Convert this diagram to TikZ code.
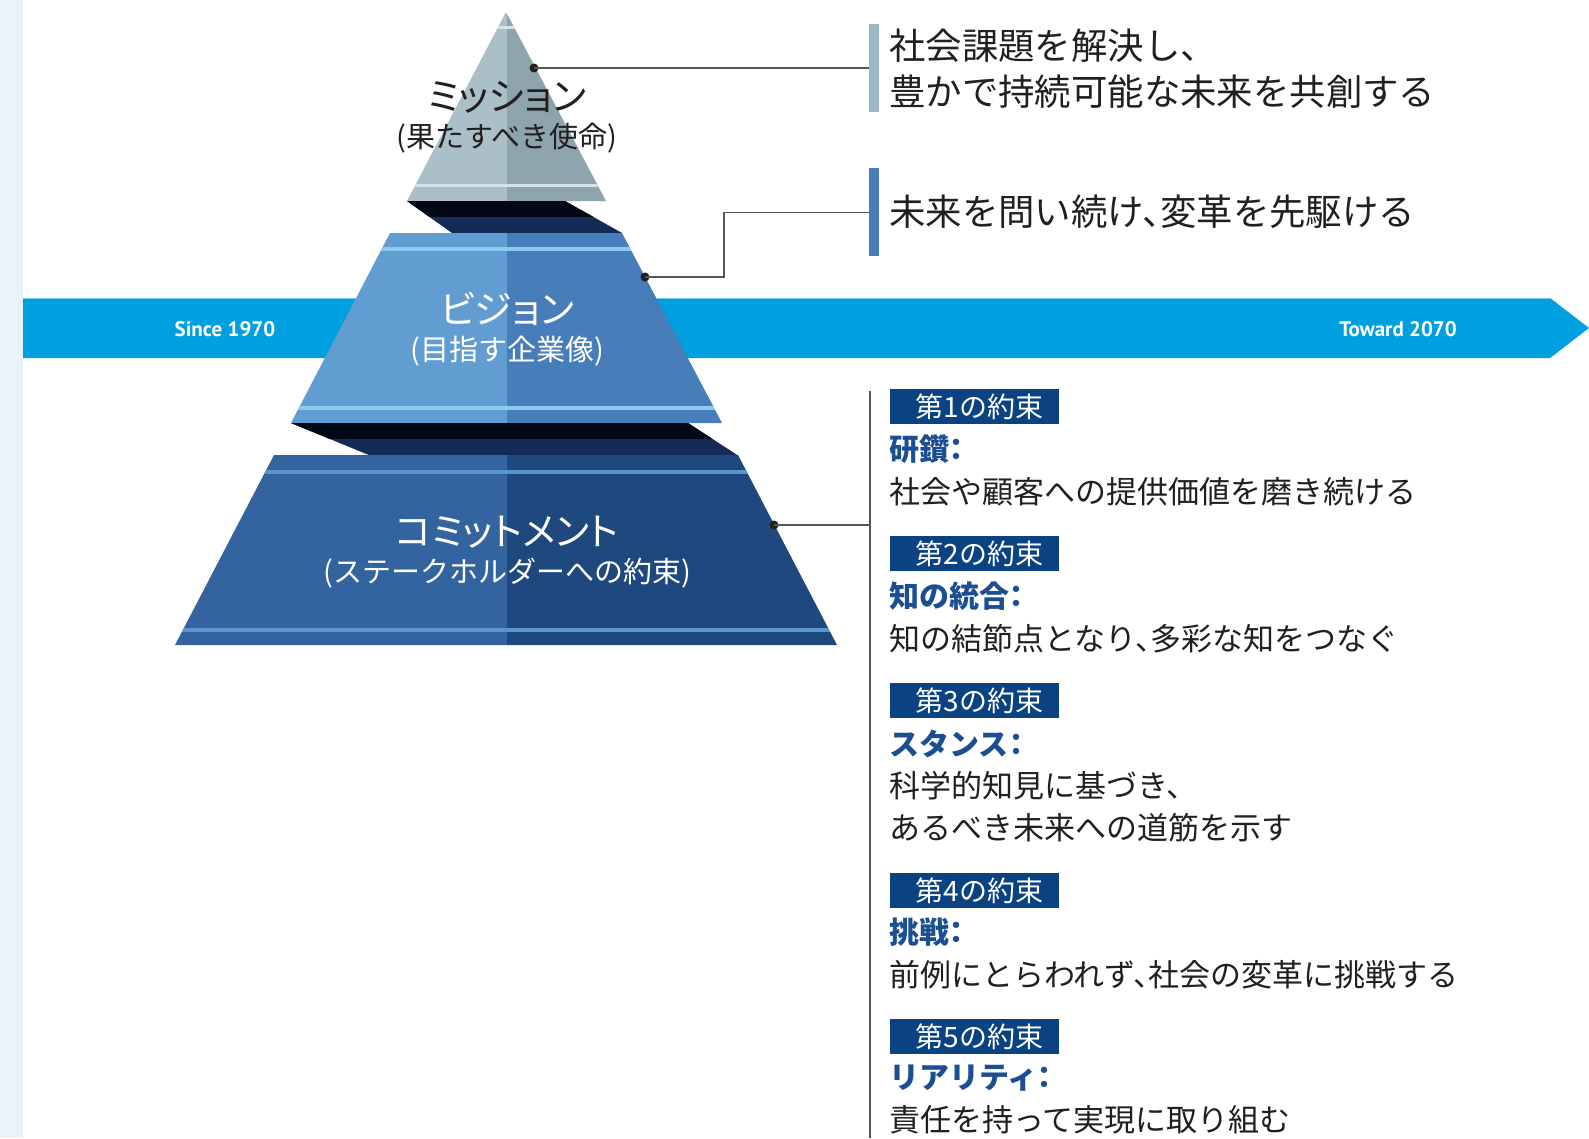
\documentclass[tikz,border=0pt]{standalone}
\usepackage{fontspec}
\newfontfamily\jp{Noto Sans CJK JP}[RawFeature=+halt]
\newfontfamily\jpp{Noto Sans CJK JP}[RawFeature=+palt]
\newfontfamily\latb{PT Sans}
\definecolor{strip}{RGB}{232,243,251}
\definecolor{barblue}{RGB}{0,160,224}
\definecolor{barline}{RGB}{120,200,240}
\definecolor{mL}{RGB}{170,191,199}
\definecolor{mR}{RGB}{141,164,173}
\definecolor{mLine}{RGB}{212,227,233}
\definecolor{gapBlack}{RGB}{2,7,22}
\definecolor{gapNavy}{RGB}{20,43,88}
\definecolor{vL}{RGB}{98,157,209}
\definecolor{vR}{RGB}{71,125,184}
\definecolor{vLine}{RGB}{139,203,240}
\definecolor{cL}{RGB}{51,100,159}
\definecolor{cR}{RGB}{31,72,127}
\definecolor{cLine}{RGB}{91,149,206}
\definecolor{txt}{RGB}{35,31,32}
\definecolor{head}{RGB}{27,79,145}
\definecolor{pboxc}{RGB}{10,66,130}
\definecolor{conn}{RGB}{85,85,85}
\definecolor{mbarc}{RGB}{157,185,198}
\tikzset{
  jptext/.style={inner sep=0pt, text=txt},
  body/.style={jptext, anchor=west, text height=27.3pt, text depth=3.7pt, font=\jp\fontsize{31}{31}\selectfont},
  stmt/.style={jptext, anchor=west, text height=32pt, text depth=4.4pt, font=\jp\fontsize{36.4}{36.4}\selectfont},
  heading/.style={jptext, anchor=west, text=head, text height=26.4pt, text depth=3.6pt, font=\jp\bfseries\fontsize{30}{30}\selectfont},
  pbox/.style={jptext, fill=pboxc, text=white, anchor=north west, minimum width=169pt, minimum height=35pt, text height=24.6pt, text depth=3.4pt, font=\jp\fontsize{28}{28}\selectfont},
  ptitle/.style={jptext, text height=33.4pt, text depth=4.6pt, font=\jpp\fontsize{38}{38}\selectfont},
  psub/.style={jptext, text height=25.5pt, text depth=3.5pt, font=\jp\fontsize{29}{29}\selectfont},
  yearlab/.style={inner sep=0pt, text=white, font=\latb\bfseries\fontsize{21}{21}\selectfont},
  dotnode/.style={circle, fill=black!88, inner sep=0pt, minimum size=9pt},
  sidebar/.style={inner sep=0pt, minimum width=10pt, minimum height=88pt, anchor=north west},
  connline/.style={draw=conn, line width=1.4pt}
}
\begin{document}
\begin{tikzpicture}[x=1pt,y=-1pt]
\useasboundingbox (0,0) rectangle (1589,1138);
\fill[white] (0,0) rectangle (1589,1138);
% left strip
\fill[strip] (0,0) rectangle (23,1138);
% timeline arrow
\fill[barblue] (23,298) -- (1550,298) -- (1589,328) -- (1550,358) -- (23,358) -- cycle;
\draw[barline, line width=1.5pt] (23,298.7) -- (1550,298.7);
\node[yearlab] (since) at (225,329) {Since 1970};
\node[yearlab] (toward) at (1398,329) {Toward 2070};

% ---------- mission
\begin{scope}
\clip (506,12) -- (606,201) -- (407,201) -- cycle;
\fill[mL] (400,0) rectangle (506.5,205);
\fill[mR] (506.5,0) rectangle (610,205);
\fill[mLine] (400,25.5) rectangle (610,29);
\fill[mLine] (400,183.5) rectangle (610,187);
\end{scope}
% gap 1
\begin{scope}
\clip (407,201) -- (565,201) -- (622,233) -- (452,233) -- cycle;
\fill[gapNavy] (400,200) rectangle (630,234);
\fill[gapBlack] (400,200) rectangle (630,217);
\end{scope}
% ---------- vision
\begin{scope}
\clip (390,233) -- (622,233) -- (722,423) -- (291,423) -- cycle;
\fill[vL] (280,230) rectangle (506.5,424);
\fill[vR] (506.5,230) rectangle (730,424);
\fill[vLine] (280,247) rectangle (730,251);
\fill[vLine] (280,406) rectangle (730,410);
\end{scope}
% gap 2
\begin{scope}
\clip (291,423) -- (688,423) -- (738,455.5) -- (370,455.5) -- cycle;
\fill[gapNavy] (280,422) rectangle (745,456);
\fill[gapBlack] (280,422) rectangle (745,439);
\end{scope}
% ---------- commitment
\begin{scope}
\clip (274,455) -- (738,455) -- (837,645) -- (175,645) -- cycle;
\fill[cL] (170,450) rectangle (506.5,646);
\fill[cR] (506.5,450) rectangle (840,646);
\fill[cLine] (170,470) rectangle (840,474);
\fill[cLine] (170,628) rectangle (840,632);
\end{scope}

% pyramid labels
\node[ptitle] (mt) at (507,96) {ミッション};
\node[psub] (ms) at (507,136) {(果たすべき使命)};
\node[ptitle, text=white] (vt) at (507,309) {ビジョン};
\node[psub, text=white] (vs) at (507,349) {(目指す企業像)};
\node[ptitle, text=white] (ct) at (507,531) {コミットメント};
\node[psub, text=white] (cs) at (507,571) {(ステークホルダーへの約束)};

% side bars
\node[sidebar, fill=mbarc] (mbar) at (869,24) {};
\node[sidebar, fill=vR] (vbar) at (869,168) {};

% dots
\node[dotnode] (mdot) at (534,68) {};
\node[dotnode] (vdot) at (645,277) {};
\node[dotnode] (cdot) at (774,525) {};
\coordinate (vbend) at (724,277);
\coordinate (ltop) at (870,391);
\coordinate (lbot) at (870,1138);

% connectors
\draw[connline] (mdot.center) -- (mdot -| mbar.west);
\draw[connline] (vdot.center) -- (vbend) |- (vbar.west);
\draw[connline] (ltop) -- (lbot);
\draw[connline] (cdot.center) -- (cdot -| ltop);

% mission / vision statements
\node[stmt] (m1) at (889,46) {社会課題を解決し、};
\node[stmt] (m2) at (889,92) {豊かで持続可能な未来を共創する};
\node[stmt] (v1) at (889,212) {未来を問い続け、変革を先駆ける};

% promises
\node[pbox] (p1) at (890,389) {\hspace*{10pt}第1の約束};
\node[heading] (h1) at (889,449) {研鑽：};
\node[body] (d1) at (889,491.5) {社会や顧客への提供価値を磨き続ける};

\node[pbox] (p2) at (890,536) {\hspace*{10pt}第2の約束};
\node[heading] (h2) at (889,596) {知の統合：};
\node[body] (d2) at (889,638.5) {知の結節点となり、多彩な知をつなぐ};

\node[pbox] (p3) at (890,683) {\hspace*{10pt}第3の約束};
\node[heading] (h3) at (889,744) {スタンス：};
\node[body] (d3a) at (889,786) {科学的知見に基づき、};
\node[body] (d3b) at (889,828) {あるべき未来への道筋を示す};

\node[pbox] (p4) at (890,873) {\hspace*{10pt}第4の約束};
\node[heading] (h4) at (889,932) {挑戦：};
\node[body] (d4) at (889,975) {前例にとらわれず、社会の変革に挑戦する};

\node[pbox] (p5) at (890,1019) {\hspace*{10pt}第5の約束};
\node[heading] (h5) at (889,1077) {リアリティ：};
\node[body] (d5) at (889,1120) {責任を持って実現に取り組む};
\end{tikzpicture}
\end{document}
